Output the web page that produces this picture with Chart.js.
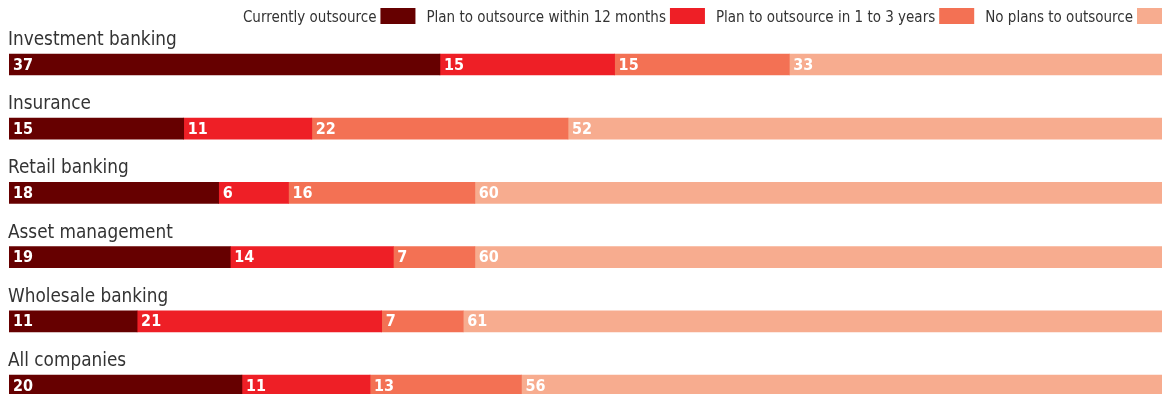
<!DOCTYPE html>
<html>
<head>
<meta charset="utf-8">
<script src="https://cdn.jsdelivr.net/npm/chart.js@4"></script>
<style>
  html, body { margin: 0; padding: 0; background: #fff; overflow: hidden; }
  #wrap { width: 1162px; height: 394px; overflow: hidden; position: relative; }
</style>
</head>
<body>
<div id="wrap">
  <canvas id="outsourceChart" width="1162" height="420"></canvas>
</div>
<script>
const categories = ["Investment banking", "Insurance", "Retail banking", "Asset management", "Wholesale banking", "All companies"];
const seriesNames = ["Currently outsource", "Plan to outsource within 12 months", "Plan to outsource in 1 to 3 years", "No plans to outsource"];
const currently = [37, 15, 18, 19, 11, 20];
const within12 = [15, 11, 6, 14, 21, 11];
const oneToThree = [15, 22, 16, 7, 7, 13];
const noPlans = [33, 52, 60, 60, 61, 56];

const colors = ["#660000", "#ee1f26", "#f37154", "#f7ac8f"];
const FONT = '"DejaVu Sans Condensed", sans-serif';

// category names sit above each bar, left aligned
const categoryLabels = {
    id: "categoryLabels",
    afterDatasetsDraw(chart) {
        const ctx = chart.ctx;
        const meta = chart.getDatasetMeta(0);
        ctx.save();
        ctx.font = "18.8px " + FONT;
        ctx.fillStyle = "#333333";
        ctx.textBaseline = "alphabetic";
        ctx.textAlign = "left";
        meta.data.forEach((bar, i) => {
            const top = bar.y - bar.height / 2;
            ctx.fillText(categories[i], 8, top - 9);
        });
        ctx.restore();
    }
};

// value at the start of every segment
const valueLabels = {
    id: "valueLabels",
    afterDatasetsDraw(chart) {
        const ctx = chart.ctx;
        ctx.save();
        ctx.font = "bold 16px " + FONT;
        ctx.fillStyle = "#ffffff";
        ctx.textBaseline = "middle";
        ctx.textAlign = "left";
        chart.data.datasets.forEach((ds, di) => {
            chart.getDatasetMeta(di).data.forEach((bar, i) => {
                const p = bar.getProps(["x", "y", "base"], true);
                ctx.fillText(String(ds.data[i]), p.base + 4, p.y + 1);
            });
        });
        ctx.restore();
    }
};

// legend: text followed by its swatch, right aligned along the top
const swatchLegend = {
    id: "swatchLegend",
    afterDraw(chart) {
        const ctx = chart.ctx;
        ctx.save();
        ctx.font = "15px " + FONT;
        ctx.textBaseline = "alphabetic";
        ctx.textAlign = "left";
        let x = 1172;
        for (let i = seriesNames.length - 1; i >= 0; i--) {
            x -= 35;
            ctx.fillStyle = colors[i];
            ctx.fillRect(x, 8, 35, 16);
            const w = ctx.measureText(seriesNames[i]).width;
            x -= 4 + w;
            ctx.fillStyle = "#333333";
            ctx.fillText(seriesNames[i], x, 22);
            x -= 11;
        }
        ctx.restore();
    }
};

const ctx = document.getElementById("outsourceChart").getContext("2d");
new Chart(ctx, {
    type: "bar",
    data: {
        labels: categories,
        datasets: [
            { label: seriesNames[0], data: currently, backgroundColor: colors[0] },
            { label: seriesNames[1], data: within12, backgroundColor: colors[1] },
            { label: seriesNames[2], data: oneToThree, backgroundColor: colors[2] },
            { label: seriesNames[3], data: noPlans, backgroundColor: colors[3] }
        ].map(d => Object.assign(d, { barThickness: 21, borderWidth: 0 }))
    },
    options: {
        indexAxis: "y",
        responsive: false,
        animation: false,
        layout: { padding: { left: 9, right: 0, top: 32.4, bottom: 2.4 } },
        plugins: {
            legend: { display: false },
            tooltip: { enabled: false }
        },
        scales: {
            x: { stacked: true, min: 0, max: 99, display: false },
            y: { stacked: true, display: false }
        }
    },
    plugins: [categoryLabels, valueLabels, swatchLegend]
});
</script>
</body>
</html>
